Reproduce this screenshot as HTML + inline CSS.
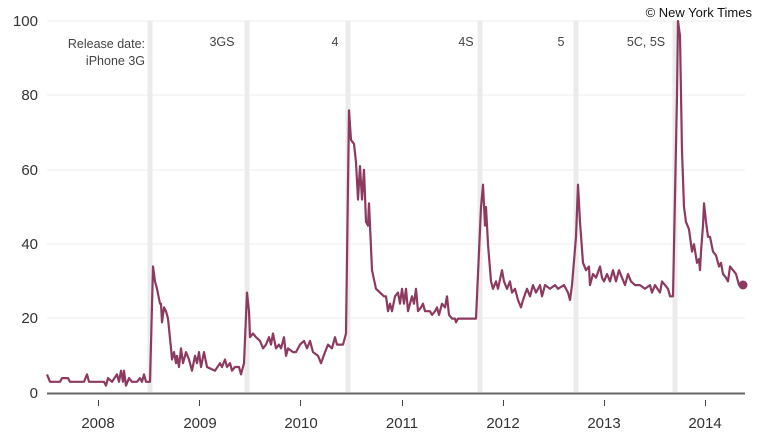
<!DOCTYPE html>
<html><head><meta charset="utf-8"><style>
body{margin:0;background:#fff;width:770px;height:434px;overflow:hidden}
svg{display:block;font-family:"Liberation Sans",sans-serif}
</style></head><body>
<svg id="s" width="770" height="434" viewBox="0 0 770 434">
<g stroke="#ececec" stroke-width="1">
<line x1="47" x2="745" y1="21" y2="21"/><line x1="47" x2="745" y1="95" y2="95"/>
<line x1="47" x2="745" y1="170" y2="170"/><line x1="47" x2="745" y1="244" y2="244"/>
<line x1="47" x2="745" y1="318" y2="318"/>
</g>
<g stroke="#ebebeb" stroke-width="5">
<line x1="150" x2="150" y1="21" y2="392"/><line x1="247" x2="247" y1="21" y2="392"/>
<line x1="348" x2="348" y1="21" y2="392"/><line x1="480" x2="480" y1="21" y2="392"/>
<line x1="576" x2="576" y1="21" y2="392"/><line x1="675" x2="675" y1="21" y2="392"/>
</g>
<g fill="#333" font-size="15" text-anchor="end">
<text x="38" y="26">100</text><text x="38" y="100">80</text><text x="38" y="175">60</text>
<text x="38" y="249">40</text><text x="38" y="323">20</text><text x="38" y="398">0</text>
</g>
<line x1="47" x2="745" y1="393.5" y2="393.5" stroke="#666" stroke-width="2"/>
<g stroke="#444" stroke-width="1">
<line x1="98.5" x2="98.5" y1="400" y2="406"/><line x1="199.5" x2="199.5" y1="400" y2="406"/>
<line x1="300.5" x2="300.5" y1="400" y2="406"/><line x1="402.5" x2="402.5" y1="400" y2="406"/>
<line x1="503.5" x2="503.5" y1="400" y2="406"/><line x1="604.5" x2="604.5" y1="400" y2="406"/>
<line x1="705.5" x2="705.5" y1="400" y2="406"/>
</g>
<g fill="#333" font-size="15" text-anchor="middle">
<text x="98" y="428">2008</text><text x="200" y="428">2009</text><text x="301" y="428">2010</text>
<text x="402" y="428">2011</text><text x="503" y="428">2012</text><text x="604" y="428">2013</text>
<text x="705" y="428">2014</text>
</g>
<g fill="#444" font-size="12.5">
<text x="145" y="48" text-anchor="end">Release date:</text>
<text x="145" y="65" text-anchor="end">iPhone 3G</text>
<text x="222" y="46" text-anchor="middle">3GS</text>
<text x="335" y="46" text-anchor="middle">4</text>
<text x="466" y="46" text-anchor="middle">4S</text>
<text x="561" y="46" text-anchor="middle">5</text>
<text x="646" y="46" text-anchor="middle">5C, 5S</text>
</g>
<text x="752" y="17" text-anchor="end" font-size="13" fill="#111">© New York Times</text>
<polyline id="p" fill="none" stroke="#8d3a60" stroke-width="2.2" stroke-linejoin="round"/>
<circle cx="743" cy="285" r="4.5" fill="#8d3a60"/>
</svg>
<script>
var d=[47,5,50,3,60,3,62,4,68,4,70,3,84,3,87,5,89,3,104,3,106,2,108,4,112,3,117,5,119,3,121,6,123,3,124,6,126,2,129,4,132,3,137,3,140,4,142,3,144,5,146,3,150,3,153,34,155,30,157,28,160,24,161,24,162,19,164,23,166,22,168,20,171,12,172,9,174,11,176,8,177,10,179,7,181,12,183,8,186,11,189,9,192,6,195,10,197,8,199,11,201,7,204,11,207,7,215,6,220,8,222,7,225,9,227,7,230,8,232,6,235,7,239,7,241,5,244,8,247,27,249,22,250,15,253,16,256,15,260,14,263,12,266,13,269,15,271,13,273,16,276,12,279,13,281,12,284,15,286,10,288,12,293,11,296,11,300,13,304,14,307,12,310,14,313,11,318,10,321,8,325,11,328,13,332,12,335,15,337,13,343,13,346,16,349,76,351,68,354,67,356,62,358,52,360,61,362,52,364,60,366,46,368,45,369,51,372,33,376,28,380,27,384,26,386,26,388,22,390,24,392,22,395,26,398,27,400,24,402,28,404,24,406,28,408,22,410,24,412,26,414,24,416,28,418,22,421,23,423,24,425,22,430,22,432,21,435,22,437,23,439,21,441,23,442,24,445,23,447,26,449,21,452,20,455,20,456,19,458,20,476,20,481,50,483,56,485,45,486,50,488,40,491,30,493,28,496,30,498,28,502,33,504,30,507,28,510,30,512,27,515,28,518,25,521,23,523,25,527,28,530,26,533,29,536,27,540,29,542,26,545,29,550,28,555,29,558,28,564,29,568,27,570,25,572,29,576,42,578,56,580,46,583,35,586,33,589,34,590,29,593,32,596,31,600,34,602,31,604,30,607,32,610,30,613,33,616,30,619,33,622,31,625,29,628,32,631,30,635,29,640,29,645,28,650,29,652,27,655,29,660,27,662,30,665,29,668,28,670,26,673,26,677,80,678,100,680,96,682,65,684,50,686,46,689,44,692,38,694,40,697,35,699,36,700,33,701,38,703,45,704,51,706,46,708,42,710,42,713,38,716,37,719,34,721,35,723,32,726,31,728,30,730,34,733,33,736,32,739,29,743,29];
var s=[];for(var i=0;i<d.length;i+=2)s.push(d[i]+","+(393-3.72*d[i+1]).toFixed(1));
document.getElementById("p").setAttribute("points",s.join(" "));
</script>
</body></html>
